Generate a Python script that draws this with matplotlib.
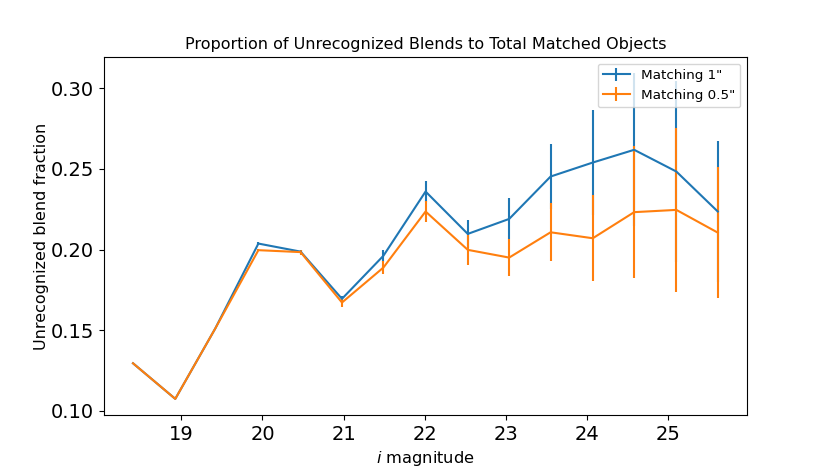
import matplotlib
matplotlib.use("Agg")
import matplotlib.pyplot as plt
from matplotlib.ticker import MultipleLocator, FormatStrFormatter

# i-band magnitude bin centres
mag = [18.405, 18.926, 19.42, 19.95, 20.47, 20.98, 21.49, 22.01,
       22.53, 23.04, 23.55, 24.07, 24.58, 25.10, 25.61]

# unrecognized blend fraction, 1" matching radius
frac_1 = [0.1294, 0.1073, 0.1511, 0.2037, 0.1987, 0.1694, 0.1961, 0.2360,
          0.2097, 0.2190, 0.2453, 0.2540, 0.2619, 0.2484, 0.2236]
err_1 = [0.0, 0.0, 0.0, 0.0010, 0.0012, 0.0016, 0.0036, 0.0064,
         0.0087, 0.0127, 0.0201, 0.0323, 0.0475, 0.0563, 0.0439]

# unrecognized blend fraction, 0.5" matching radius
frac_05 = [0.1294, 0.1073, 0.1511, 0.1996, 0.1984, 0.1671, 0.1888, 0.2236,
           0.1998, 0.1950, 0.2107, 0.2070, 0.2232, 0.2246, 0.2105]
err_05 = [0.0, 0.0, 0.0, 0.0008, 0.0015, 0.0025, 0.0038, 0.0064,
          0.0091, 0.0116, 0.0179, 0.0267, 0.0411, 0.0507, 0.0406]

fig, ax = plt.subplots(figsize=(8.3, 4.75), dpi=100)
fig.subplots_adjust(left=0.125, right=0.9, top=0.88, bottom=0.126)

ax.errorbar(mag, frac_1, yerr=err_1, label='Matching 1"')
ax.errorbar(mag, frac_05, yerr=err_05, label='Matching 0.5"')

ax.set_title("Proportion of Unrecognized Blends to Total Matched Objects",
             fontsize=11.5)
ax.set_xlabel("$i$ magnitude", fontsize=11.7)
ax.set_ylabel("Unrecognized blend fraction", fontsize=11.5, labelpad=1.5)
ax.yaxis.set_major_locator(MultipleLocator(0.05))
ax.yaxis.set_major_formatter(FormatStrFormatter("%.2f"))
ax.tick_params(labelsize=14)
ax.legend(loc="upper right", fontsize=9.7)

fig.savefig("out.png", dpi=100)
